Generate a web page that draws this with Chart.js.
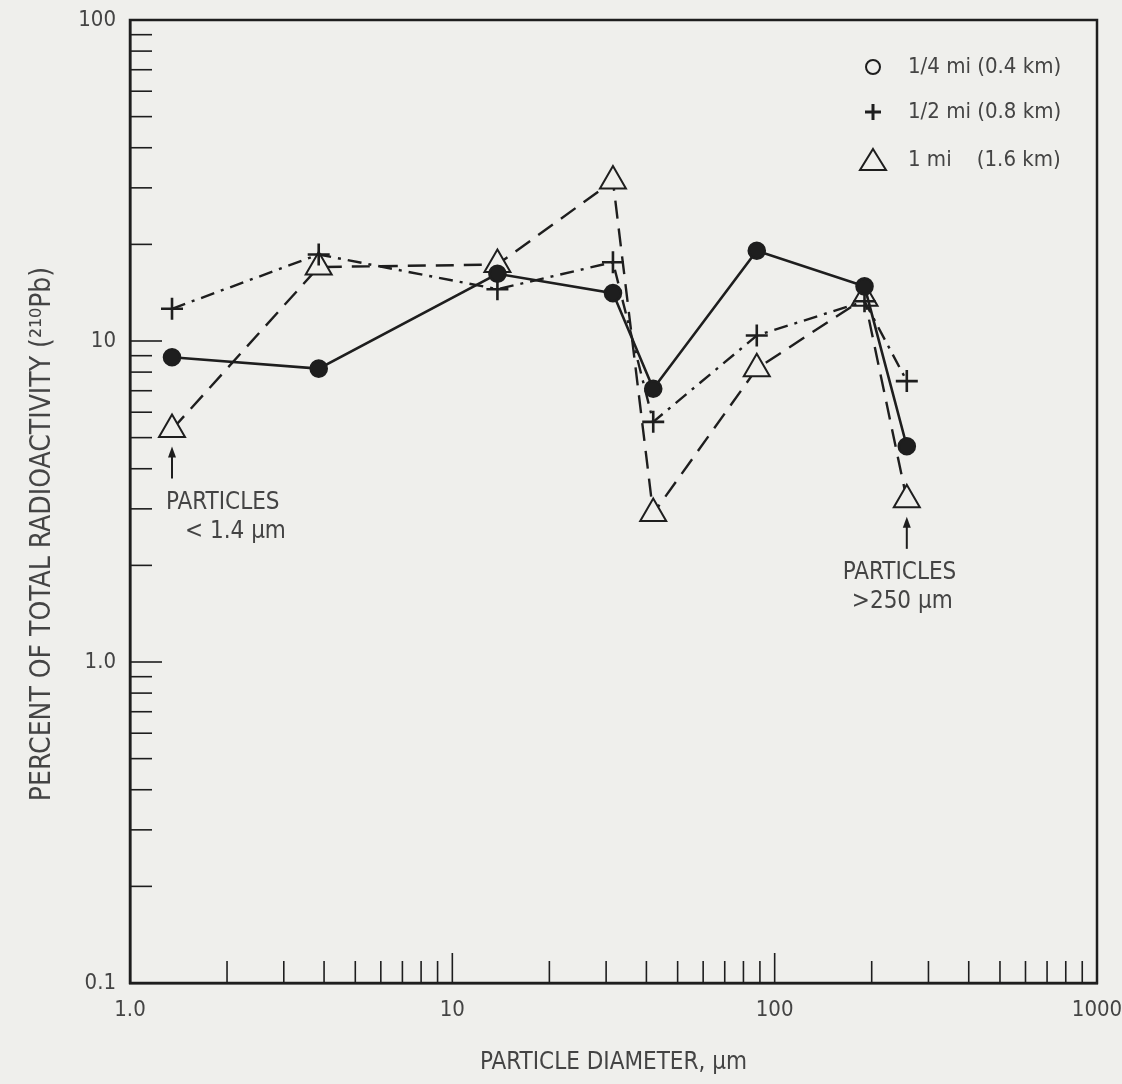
<!DOCTYPE html>
<html>
<head>
<meta charset="utf-8">
<script src="https://cdn.jsdelivr.net/npm/chart.js@4.4.1/dist/chart.umd.min.js"></script>
<style>
  html, body { margin: 0; padding: 0; background: #efefec; }
  #wrap { width: 1122px; height: 1084px; position: relative; }
</style>
</head>
<body>
<div id="wrap"><canvas id="chartPb"></canvas></div>
<script>
// particle diameter (um) for each size fraction
const diameters = [1.35, 3.85, 13.8, 31.5, 42, 88, 190, 257];
// percent of total radioactivity per distance
const quarterMile = [8.9, 8.2, 16.2, 14.1, 7.1, 19.1, 14.8, 4.7];
const halfMile = [12.6, 18.6, 14.5, 17.6, 5.6, 10.4, 13.3, 7.5];
const oneMile = [5.3, 17.0, 17.3, 31.5, 2.9, 8.2, 13.6, 3.2];

const seriesNames = ["1/4 mi (0.4 km)", "1/2 mi (0.8 km)", "1 mi    (1.6 km)"];
const xTickLabels = { 1: "1.0", 10: "10", 100: "100", 1000: "1000" };
const yTickLabels = { 0.1: "0.1", 1: "1.0", 10: "10", 100: "100" };
const yTitle = "PERCENT OF TOTAL RADIOACTIVITY (\u00b2\u00b9\u2070Pb)";

const INK = "#1e1e1e";
const TEXT = "#444444";
const BG = "#efefec";
const FONT = '"DejaVu Sans Condensed", "Liberation Sans Narrow", sans-serif';

function logTicks(lo, hi) {
    const out = [];
    for (let d = lo; d < hi; d *= 10) {
        for (let m = 1; m < 10; m++) out.push(+(m * d).toPrecision(3));
    }
    out.push(hi);
    return out;
}

function toPoints(ys) {
    return diameters.map((x, i) => ({ x: x, y: ys[i] }));
}

// inward tick marks, frame, legend, y title and notes
const decorPlugin = {
    id: "decor",
    beforeDraw(chart) {
        const ctx = chart.ctx;
        ctx.save();
        ctx.fillStyle = BG;
        ctx.fillRect(0, 0, chart.width, chart.height);
        ctx.restore();
    },
    afterDatasetsDraw(chart) {
        const { ctx, chartArea: a, scales } = chart;
        const xs = scales.x, ys = scales.y;
        ctx.save();
        ctx.strokeStyle = INK;
        ctx.lineWidth = 2.5;
        ctx.strokeRect(a.left, a.top, a.right - a.left, a.bottom - a.top);

        ctx.lineWidth = 1.6;
        xs.ticks.forEach(t => {
            const px = xs.getPixelForValue(t.value);
            const len = xTickLabels[t.value] ? 30 : 22;
            ctx.beginPath();
            ctx.moveTo(px, a.bottom);
            ctx.lineTo(px, a.bottom - len);
            ctx.stroke();
        });
        ys.ticks.forEach(t => {
            const py = ys.getPixelForValue(t.value);
            const len = (t.value === 10 || t.value === 1) ? 32 : 22;
            ctx.beginPath();
            ctx.moveTo(a.left, py);
            ctx.lineTo(a.left + len, py);
            ctx.stroke();
        });

        // y title, sits a bit below the axis middle like the original
        ctx.save();
        ctx.translate(43, 534);
        ctx.rotate(-Math.PI / 2);
        ctx.fillStyle = TEXT;
        ctx.font = "28px " + FONT;
        ctx.textAlign = "center";
        ctx.textBaseline = "middle";
        ctx.fillText(yTitle, 0, 0);
        ctx.restore();

        // legend
        const lx = 873, ly = [67, 112, 160];
        ctx.lineWidth = 2;
        ctx.beginPath();
        ctx.arc(lx, ly[0], 7, 0, Math.PI * 2);
        ctx.stroke();
        ctx.lineWidth = 3;
        ctx.beginPath();
        ctx.moveTo(lx - 8, ly[1]); ctx.lineTo(lx + 8, ly[1]);
        ctx.moveTo(lx, ly[1] - 8); ctx.lineTo(lx, ly[1] + 8);
        ctx.stroke();
        ctx.lineWidth = 2;
        ctx.beginPath();
        ctx.moveTo(lx, ly[2] - 11); ctx.lineTo(lx + 13, ly[2] + 10); ctx.lineTo(lx - 13, ly[2] + 10);
        ctx.closePath();
        ctx.stroke();
        ctx.fillStyle = TEXT;
        ctx.font = "22px " + FONT;
        ctx.textBaseline = "middle";
        seriesNames.forEach((s, i) => ctx.fillText(s, 908, ly[i]));

        // arrows with notes
        const notes = [
            { i: 0, ys: oneMile, lines: ["PARTICLES", "< 1.4 \u00b5m"], dx: [-6, 13] },
            { i: 7, ys: oneMile, lines: ["PARTICLES", ">250 \u00b5m"], dx: [-64, -55] }
        ];
        ctx.lineWidth = 2;
        ctx.font = "24px " + FONT;
        notes.forEach(n => {
            const px = xs.getPixelForValue(diameters[n.i]);
            const py = ys.getPixelForValue(n.ys[n.i]) + 17;
            ctx.beginPath();
            ctx.moveTo(px, py + 32);
            ctx.lineTo(px, py + 4);
            ctx.stroke();
            ctx.beginPath();
            ctx.moveTo(px, py);
            ctx.lineTo(px - 4, py + 11);
            ctx.lineTo(px + 4, py + 11);
            ctx.closePath();
            ctx.fillStyle = INK;
            ctx.fill();
            ctx.fillStyle = TEXT;
            ctx.textAlign = "left";
            ctx.fillText(n.lines[0], px + n.dx[0], py + 56);
            ctx.fillText(n.lines[1], px + n.dx[1], py + 85);
        });
        ctx.restore();
    }
};

const ctx = document.getElementById("chartPb");
new Chart(ctx, {
    type: "line",
    data: {
        datasets: [
            {
                label: seriesNames[0],
                data: toPoints(quarterMile),
                borderColor: INK,
                borderWidth: 2.6,
                pointStyle: "circle",
                pointRadius: 8,
                pointBackgroundColor: INK,
                pointBorderColor: INK,
                order: 0
            },
            {
                label: seriesNames[1],
                data: toPoints(halfMile),
                borderColor: INK,
                borderWidth: 2.4,
                borderDash: [14, 7, 3, 7],
                pointStyle: "cross",
                pointRadius: 11,
                pointBorderWidth: 2.6,
                pointBorderColor: INK,
                order: 1
            },
            {
                label: seriesNames[2],
                data: toPoints(oneMile),
                borderColor: INK,
                borderWidth: 2.4,
                borderDash: [18, 10],
                pointStyle: "triangle",
                pointRadius: 15,
                pointBorderWidth: 2,
                pointBackgroundColor: BG,
                pointBorderColor: INK,
                order: 2
            }
        ]
    },
    options: {
        responsive: true,
        maintainAspectRatio: false,
        animation: false,
        layout: { padding: { top: 20, right: 25, left: 0, bottom: 0 } },
        plugins: { legend: { display: false }, tooltip: { enabled: false } },
        scales: {
            x: {
                type: "logarithmic",
                min: 1,
                max: 1000,
                afterBuildTicks: s => { s.ticks = logTicks(1, 1000).map(v => ({ value: v })); },
                afterFit: s => { s.height = 101; s.paddingLeft = 0; s.paddingRight = 0; },
                grid: { display: false, drawTicks: false },
                border: { display: true, color: INK, width: 2.5 },
                ticks: {
                    autoSkip: false,
                    maxRotation: 0,
                    padding: 14,
                    color: TEXT,
                    font: { family: FONT, size: 22 },
                    callback: v => xTickLabels[v] || ""
                },
                title: {
                    display: true,
                    text: "PARTICLE DIAMETER, \u00b5m",
                    color: TEXT,
                    font: { family: FONT, size: 24 },
                    padding: { top: 0, bottom: 7 }
                }
            },
            y: {
                type: "logarithmic",
                min: 0.1,
                max: 100,
                afterBuildTicks: s => { s.ticks = logTicks(0.1, 100).map(v => ({ value: v })); },
                afterFit: s => { s.width = 130; s.paddingTop = 0; s.paddingBottom = 0; },
                grid: { display: false, drawTicks: false },
                border: { display: true, color: INK, width: 2.5 },
                ticks: {
                    autoSkip: false,
                    padding: 14,
                    color: TEXT,
                    font: { family: FONT, size: 22 },
                    callback: v => yTickLabels[v] || ""
                }
            }
        }
    },
    plugins: [decorPlugin]
});
</script>
</body>
</html>
